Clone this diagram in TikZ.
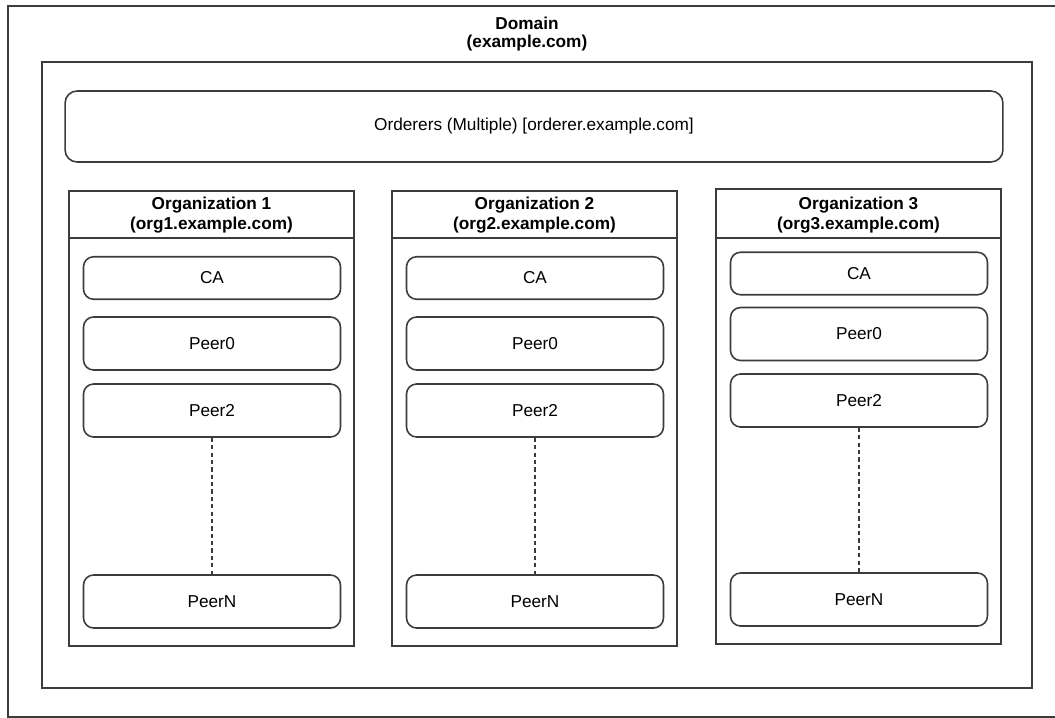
\documentclass[tikz,border=0pt]{standalone}
\usepackage{fontspec}
\setmainfont{Liberation Sans}
\usetikzlibrary{positioning}
\definecolor{framegray}{HTML}{3C3C3C}

\begin{document}
\begin{tikzpicture}[x=0.02cm, y=-0.02cm,
        every node/.style={font=\fontsize{9.8}{11}\selectfont, align=center, inner sep=0pt},
        frame/.style={draw=framegray, line width=0.9pt},
        titletext/.style={font=\fontsize{9.8}{11}\selectfont\bfseries},
        peerbox/.style={frame, rounded corners=0.2cm, minimum width=5.14cm, minimum height=1.06cm},
        cabox/.style={peerbox, minimum height=0.85cm}]
        % Page size
        \useasboundingbox (0,0) rectangle (1055,717);

        % Outer domain frame, cut off at the page edge
        \draw[frame, line width=1.1pt] (8,6) rectangle (1080,717);
        \node[titletext, font=\fontsize{9.8}{10.3}\selectfont\bfseries] (domain) at (527,34) {Domain\\(example.com)};

        % Inner frame
        \draw[frame] (42,62) rectangle (1032,688);

        % Orderers
        \node[frame, rounded corners=0.24cm, minimum width=18.76cm, minimum height=1.42cm] (orderers) at (534,126.5) {Orderers (Multiple) [orderer.example.com]};

        % Organizations
        \foreach \i/\l/\t/\b/\ca/\pz/\pt/\pn in {1/69/191/646/278/343.5/410.5/601.5,
                2/392/191/646/278/343.5/410.5/601.5,
                3/716/189/644/273.5/334/400.5/599.5} {
            \draw[frame] (\l,\t) rectangle (\l+285,\b);
            \draw[frame] (\l,238) -- (\l+285,238);
            \node[titletext] (org\i) at (\l+142.5,215) {Organization \i\\(org\i.example.com)};
            \node[cabox] (ca\i) at (\l+143,\ca) {CA};
            \node[peerbox] (peerzero\i) at (\l+143,\pz) {Peer0};
            \node[peerbox] (peertwo\i) at (\l+143,\pt) {Peer2};
            \node[peerbox] (peern\i) at (\l+143,\pn) {PeerN};
            \draw[frame, line width=0.7pt, dash pattern=on 2.4pt off 1.8pt] (peertwo\i) -- (peern\i);
        }
    \end{tikzpicture}
\end{document}
